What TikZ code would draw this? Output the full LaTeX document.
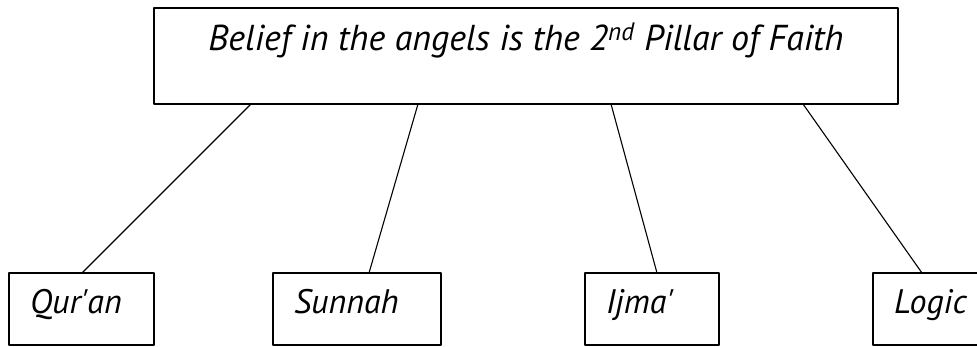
\documentclass[tikz,border=0pt]{standalone}
\usepackage{fontspec}
\setmainfont{PT Sans}
\begin{document}
\begin{tikzpicture}[x=1pt, y=-1pt, line join=round, line cap=round,
	box/.style={draw, line width=1.2pt, outer sep=0pt, inner ysep=0pt, inner xsep=21pt, align=left, text height=40pt, text depth=32pt, font=\fontsize{34}{34}\selectfont\itshape, anchor=base west},
	link/.style={line width=1.1pt}]
				\useasboundingbox (0,0) rectangle (977,346);
				\node[draw, line width=1.2pt, outer sep=0pt, inner sep=0pt, minimum width=744pt, text height=42pt, text depth=54pt, font=\fontsize{36}{36}\selectfont\itshape, anchor=base] (belief) at (526,50) {Belief in the angels is the 2\textsuperscript{nd} Pillar of Faith};
				\node[box, text width=103pt] (quran) at (9,313) {Qur\textquotesingle an};
				\node[box, text width=126pt] (sunnah) at (273,313) {Sunnah};
				\node[box, text width=92pt] (ijma) at (585,313) {Ijma\textquotesingle};
				\node[box, text width=120pt] (logic) at (873,313) {Logic};
				
				\draw[link] ([xshift=97pt]belief.south west) -- ([xshift=73pt]quran.north west);
				\draw[link] ([xshift=264pt]belief.south west) -- ([xshift=96pt]sunnah.north west);
				\draw[link] ([xshift=457pt]belief.south west) -- ([xshift=72pt]ijma.north west);
				\draw[link] ([xshift=649pt]belief.south west) -- ([xshift=49pt]logic.north west);
		\end{tikzpicture}
\end{document}
